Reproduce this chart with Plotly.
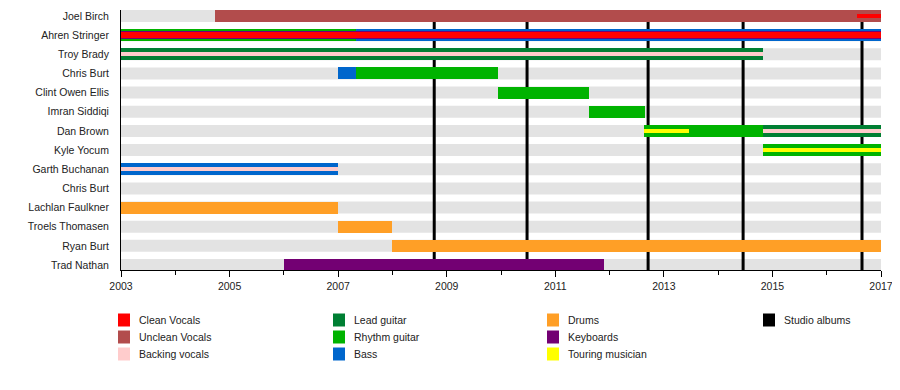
import plotly.graph_objects as go

# ---------------- data ----------------
members = ["Joel Birch", "Ahren Stringer", "Troy Brady", "Chris Burt", "Clint Owen Ellis",
           "Imran Siddiqi", "Dan Brown", "Kyle Yocum", "Garth Buchanan", "Chris Burt",
           "Lachlan Faulkner", "Troels Thomasen", "Ryan Burt", "Trad Nathan"]

album_dates = [2008.77, 2010.48, 2012.71, 2014.46, 2016.65]

# primary roles (full-height bars)
main_member = [0, 1, 1, 2, 3, 3, 4, 5, 6, 6, 7, 8, 10, 11, 12, 13]
main_role = ["Unclean Vocals", "Rhythm guitar", "Bass", "Lead guitar", "Bass", "Rhythm guitar",
             "Rhythm guitar", "Rhythm guitar", "Rhythm guitar", "Lead guitar", "Rhythm guitar",
             "Bass", "Drums", "Drums", "Drums", "Keyboards"]
main_start = [2004.73, 2003.0, 2007.33, 2003.0, 2007.0, 2007.33, 2009.94, 2011.62, 2012.63,
              2014.82, 2014.82, 2003.0, 2003.0, 2007.0, 2008.0, 2006.0]
main_end = [2017.0, 2007.33, 2017.0, 2014.82, 2007.33, 2009.94, 2011.62, 2012.65, 2014.82,
            2017.0, 2017.0, 2007.0, 2007.0, 2008.0, 2017.0, 2011.9]

# second layer
second_member = [1]
second_role = ["Keyboards"]
second_start = [2003.0]
second_end = [2017.0]

# third layer
third_member = [1]
third_role = ["Clean Vocals"]
third_start = [2003.0]
third_end = [2017.0]

# stripes (centre)
stripe_member = [0, 2, 6, 6, 7, 8]
stripe_role = ["Clean Vocals", "Backing vocals", "Touring musician", "Backing vocals",
               "Touring musician", "Backing vocals"]
stripe_start = [2016.56, 2003.0, 2012.63, 2014.82, 2014.82, 2003.0]
stripe_end = [2017.0, 2014.82, 2013.46, 2017.0, 2017.0, 2007.0]

legend_roles = ["Clean Vocals", "Unclean Vocals", "Backing vocals",
                "Lead guitar", "Rhythm guitar", "Bass",
                "Drums", "Keyboards", "Touring musician",
                "Studio albums"]

# ---------------- style ----------------
colors = {
    "Clean Vocals": "#ff0000",
    "Unclean Vocals": "#b24c4c",
    "Backing vocals": "#ffcccc",
    "Lead guitar": "#007f33",
    "Rhythm guitar": "#00b300",
    "Bass": "#0066cc",
    "Drums": "#ff9f26",
    "Keyboards": "#730073",
    "Touring musician": "#ffff00",
    "Studio albums": "#000000",
}
FONT = "Liberation Sans, Arial, Helvetica, sans-serif"
FS = 10.5
TXT = "#222"
OFF = 8  # page body margin
ROW_PX = 260 / 13.574
X0, X1 = 2003, 2017
W, H = 900 - OFF, 390 - OFF
ML, MR, MT, MB = 121 - OFF, 19, 10 - OFF, 120
Y_TOP, Y_BOT = -6 / ROW_PX, 13 + 5 / ROW_PX
LEG_COL_LEFT = [118, 333, 547, 763]

fig = go.Figure()

shapes = []
# grey row backgrounds
for i in range(len(members)):
    shapes.append(dict(type="rect", xref="x", yref="y", x0=X0, x1=X1,
                       y0=i - 6 / ROW_PX, y1=i + 6 / ROW_PX,
                       fillcolor="#e3e3e3", line=dict(width=0), layer="below"))
# studio album lines
for d in album_dates:
    shapes.append(dict(type="line", xref="x", yref="y", x0=d, x1=d, y0=Y_TOP, y1=Y_BOT,
                       line=dict(color="black", width=3), layer="below"))


def add_layer(mem, role, start, end, px):
    fig.add_trace(go.Bar(
        orientation="h",
        y=mem,
        base=start,
        x=[e - s for s, e in zip(start, end)],
        width=px / ROW_PX,
        marker=dict(color=[colors[r] for r in role], line=dict(width=0)),
        showlegend=False,
        hoverinfo="skip",
    ))


add_layer(main_member, main_role, main_start, main_end, 12)
add_layer(second_member, second_role, second_start, second_end, 8)
add_layer(third_member, third_role, third_start, third_end, 6)
add_layer(stripe_member, stripe_role, stripe_start, stripe_end, 4)

# custom legend (4 columns x 3 rows, column-major)
annotations = []
pw = W - ML - MR
ph = H - MT - MB
for k, role in enumerate(legend_roles):
    col, row = divmod(k, 3)
    left = LEG_COL_LEFT[col] - OFF
    cy = 320 - OFF + 17 * row
    shapes.append(dict(type="rect", xref="paper", yref="paper",
                       x0=(left - ML) / pw, x1=(left + 12 - ML) / pw,
                       y0=(H - MB - (cy - 6.5)) / ph, y1=(H - MB - (cy + 6.5)) / ph,
                       fillcolor=colors[role], line=dict(width=0)))
    annotations.append(dict(xref="paper", yref="paper", x=(left + 19 - ML) / pw,
                            y=(H - MB - cy) / ph, text=role, showarrow=False,
                            xanchor="left", yanchor="middle",
                            font=dict(family=FONT, size=FS, color=TXT)))

fig.update_layout(
    width=W, height=H,
    margin=dict(l=ML, r=MR, t=MT, b=MB, pad=0, autoexpand=False),
    plot_bgcolor="white", paper_bgcolor="white",
    barmode="overlay", bargap=0,
    shapes=shapes, annotations=annotations,
    showlegend=False,
    font=dict(family=FONT, size=FS, color=TXT),
    xaxis=dict(range=[X0, X1], tickmode="linear", tick0=2003, dtick=2, tickformat="d",
               ticks="outside", ticklen=6, tickwidth=1, tickcolor="black",
               minor=dict(dtick=1, tick0=2003, ticks="outside", ticklen=4, tickcolor="black"),
               showline=True, linecolor="black", linewidth=1,
               showgrid=False, zeroline=False, automargin=False,
               tickfont=dict(family=FONT, size=FS, color=TXT)),
    yaxis=dict(range=[Y_BOT, Y_TOP], tickmode="array",
               tickvals=list(range(len(members))), ticktext=members,
               ticks="", ticklabelstandoff=9,
               showline=True, linecolor="black", linewidth=1,
               showgrid=False, zeroline=False, automargin=False,
               tickfont=dict(family=FONT, size=FS, color=TXT)),
)

fig.write_html("out.html")
